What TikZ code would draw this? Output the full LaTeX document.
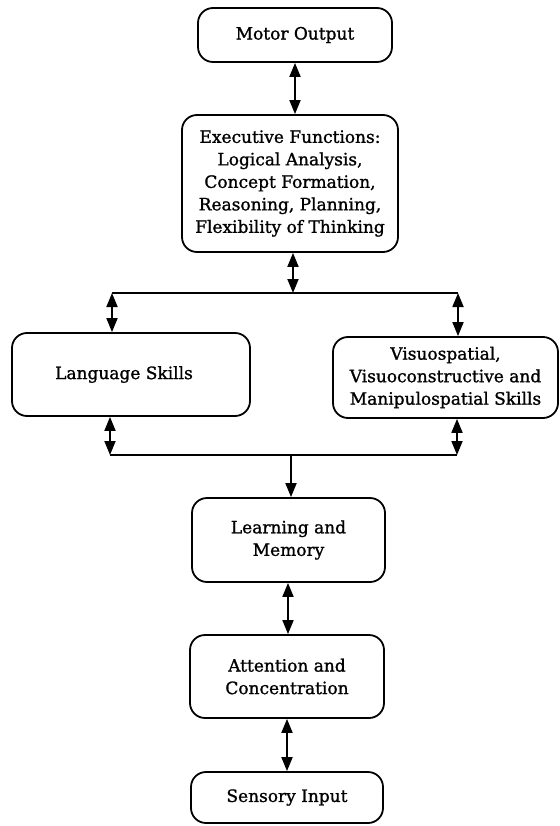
\documentclass[tikz,border=0pt]{standalone}
\usepackage{fontspec}
\setmainfont{DejaVu Serif}[FakeBold=1.2]
\newfontfamily\boxfont{DejaVu Serif}[FakeBold=1.2]
\usetikzlibrary{arrows.meta}
\begin{document}
\begin{tikzpicture}[x=1pt,y=-1pt,
  box/.style={draw, line width=1.8pt, rounded corners=15pt, align=center,
    inner sep=0pt, font=\boxfont\fontsize{17}{22.5}\selectfont},
  link/.style={line width=1.8pt},
  both/.style={link, {Triangle[length=14pt,width=11pt]}-{Triangle[length=14pt,width=11pt]}},
  down/.style={link, -{Triangle[length=14pt,width=11pt]}}]
\useasboundingbox (0,0) rectangle (559,826);

% boxes
\node[box, minimum width=194pt, minimum height=54pt] (motor) at (295,35) {Motor Output};
\node[box, minimum width=216pt, minimum height=137pt] (exec) at (290,183.5)
  {Executive Functions:\\Logical Analysis,\\Concept Formation,\\Reasoning, Planning,\\Flexibility of Thinking};
\node[box, minimum width=238pt, minimum height=83pt] (lang) at (131,374.5) {Language Skills\hspace*{14pt}};
\node[box, minimum width=225pt, minimum height=81pt] (vis) at (445.5,377.5)
  {Visuospatial,\\Visuoconstructive and\\Manipulospatial Skills};
\node[box, minimum width=193pt, minimum height=84pt] (learn) at (288.5,540) {Learning and\\Memory};
\node[box, minimum width=194pt, minimum height=83pt] (attn) at (287,676.5) {Attention and\\Concentration};
\node[box, minimum width=192pt, minimum height=51pt] (sens) at (287,797.5) {Sensory Input};

% junctions on the two distribution lines
\coordinate (jt) at (293,293);
\coordinate (tl) at (112,293);
\coordinate (tr) at (458,293);
\coordinate (bl) at (110,455);
\coordinate (br) at (457,455);
\coordinate (jb) at (291,455);
\coordinate (jm) at (288,600);

% connectors
\draw[both] (motor.south) -- (motor.south |- exec.north);
\draw[both] (jt |- exec.south) -- (jt);
\draw[link] (tl) -- (tr);
\draw[both] (tl) -- (tl |- lang.north);
\draw[both] (tr) -- (tr |- vis.north);
\draw[both] (bl |- lang.south) -- (bl);
\draw[both] (br |- vis.south) -- (br);
\draw[link] (bl) -- (br);
\draw[down] (jb) -- (jb |- learn.north);
\draw[both] (jm |- learn.south) -- (jm |- attn.north);
\draw[both] (attn.south) -- (sens.north);
\end{tikzpicture}
\end{document}
